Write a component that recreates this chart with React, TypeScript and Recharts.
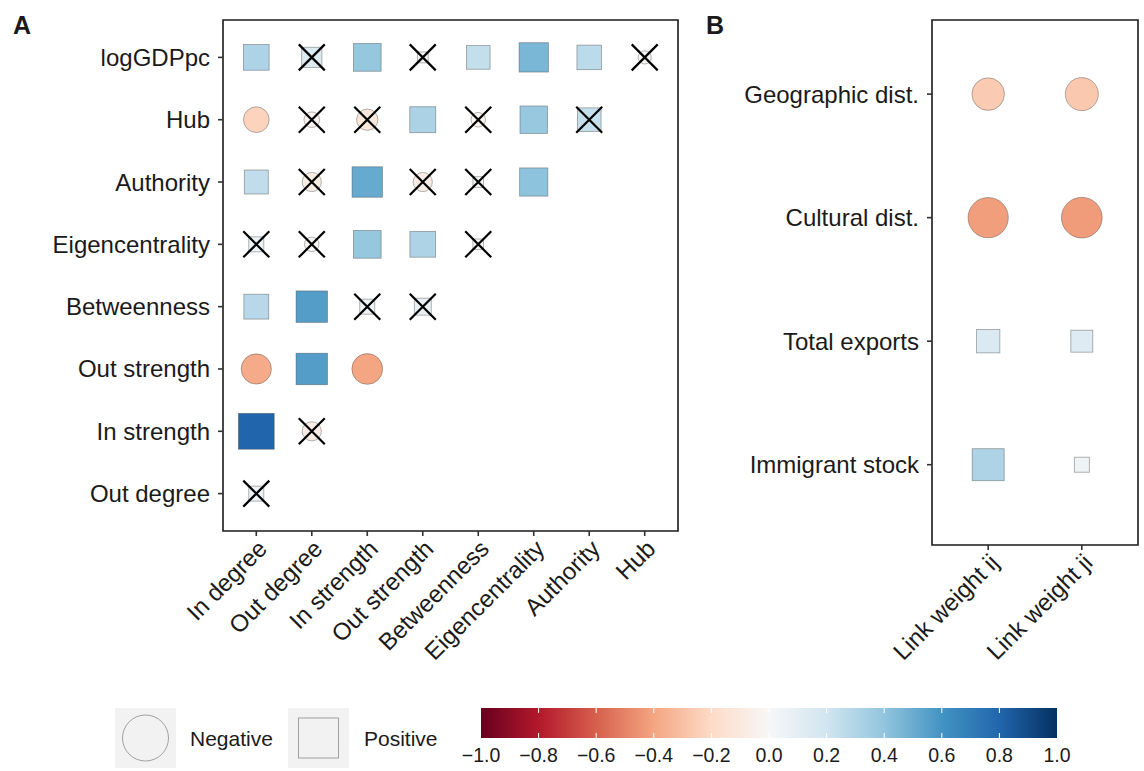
import React from "react";
import { ScatterChart, Scatter, XAxis, YAxis, ReferenceArea } from "recharts";

// Panel A: centrality measures (columns) vs row variables (lower triangle)
const colVars = ["In degree", "Out degree", "In strength", "Out strength", "Betweenness", "Eigencentrality", "Authority", "Hub"];
const rowVars = ["logGDPpc", "Hub", "Authority", "Eigencentrality", "Betweenness", "Out strength", "In strength", "Out degree"];

const corrLogGDPpc = [0.31, 0.14, 0.39, 0.004, 0.24, 0.46, 0.27, -0.01];
const corrHub = [-0.23, -0.03, -0.12, 0.32, -0.02, 0.38, 0.24];
const corrAuthority = [0.25, -0.08, 0.51, -0.08, 0.003, 0.41];
const corrEigen = [0.04, -0.02, 0.39, 0.31, 0.003];
const corrBetweenness = [0.28, 0.56, 0.04, 0.07];
const corrOutStrength = [-0.38, 0.56, -0.4];
const corrInStrength = [0.8, -0.08];
const corrOutDegree = [0.04];

// significant at the chosen level (false = crossed out)
const sigLogGDPpc = [true, false, true, false, true, true, true, false];
const sigHub = [true, false, false, true, false, true, false];
const sigAuthority = [true, false, true, false, false, true];
const sigEigen = [false, false, true, true, false];
const sigBetweenness = [true, true, false, false];
const sigOutStrength = [true, true, true];
const sigInStrength = [true, false];
const sigOutDegree = [false];

// Panel B: link weights vs dyadic variables
const linkVars = ["Link weight ij", "Link weight ji"];
const dyadVars = ["Geographic dist.", "Cultural dist.", "Total exports", "Immigrant stock"];
const corrLinkIj = [-0.26, -0.42, 0.15, 0.31];
const corrLinkJi = [-0.27, -0.43, 0.13, 0.05];
const sigLinkIj = [true, true, true, true];
const sigLinkJi = [true, true, true, true];

const colorbarTicks = [-1, -0.8, -0.6, -0.4, -0.2, 0, 0.2, 0.4, 0.6, 0.8, 1];

const RDBU = ["#67001f", "#b2182b", "#d6604d", "#f4a582", "#fddbc7", "#f7f7f7", "#d1e5f0", "#92c5de", "#4393c3", "#2166ac", "#053061"];
const FONT = "'Liberation Sans', Arial, Helvetica, sans-serif";
const INK = "#1a1a1a";
const LABEL_SIZE = 24;

const hex = (h: string) => [1, 3, 5].map((i) => parseInt(h.slice(i, i + 2), 16));
function corrColor(v: number) {
  const t = ((Math.max(-1, Math.min(1, v)) + 1) / 2) * 10;
  const i = Math.min(9, Math.floor(t));
  const f = t - i;
  const a = hex(RDBU[i]);
  const b = hex(RDBU[i + 1]);
  const c = a.map((x, k) => Math.round(x + (b[k] - x) * f));
  return `rgb(${c[0]},${c[1]},${c[2]})`;
}

const matrixRows = [
  [corrLogGDPpc, sigLogGDPpc],
  [corrHub, sigHub],
  [corrAuthority, sigAuthority],
  [corrEigen, sigEigen],
  [corrBetweenness, sigBetweenness],
  [corrOutStrength, sigOutStrength],
  [corrInStrength, sigInStrength],
  [corrOutDegree, sigOutDegree],
] as [number[], boolean[]][];

const dataA = matrixRows.flatMap(([vals, sig], row) =>
  vals.map((r, col) => ({ x: col + 1, y: row + 1, r, sig: sig[col] }))
);

const dataB = [
  ...corrLinkIj.map((r, i) => ({ x: 1, y: i + 1, r, sig: sigLinkIj[i] })),
  ...corrLinkJi.map((r, i) => ({ x: 2, y: i + 1, r, sig: sigLinkJi[i] })),
];

// size scale: side = base + k * sqrt(|r|), circles slightly bigger (equal-ish area)
const makeMarker = (base: number, k: number) => (props: any) => {
  const { cx, cy, payload } = props;
  if (cx == null || cy == null) return <g />;
  const side = base + k * Math.sqrt(Math.abs(payload.r));
  const fill = corrColor(payload.r);
  const stroke = "rgba(70,70,70,0.5)";
  const h = 13;
  return (
    <g>
      {payload.r < 0 ? (
        <circle cx={cx} cy={cy} r={(side * 1.1) / 2} fill={fill} stroke={stroke} strokeWidth={0.8} />
      ) : (
        <rect x={cx - side / 2} y={cy - side / 2} width={side} height={side} fill={fill} stroke={stroke} strokeWidth={0.8} />
      )}
      {!payload.sig && (
        <path d={`M${cx - h},${cy - h}L${cx + h},${cy + h}M${cx - h},${cy + h}L${cx + h},${cy - h}`} stroke="#000" strokeWidth={2.2} />
      )}
    </g>
  );
};

const AngledTick = ({ x, y, payload, labels }: any) => (
  <text
    x={x}
    y={y}
    textAnchor="end"
    dy="0.72em"
    fontSize={LABEL_SIZE}
    fill={INK}
    fontFamily={FONT}
    transform={`rotate(-45, ${x}, ${y})`}
  >
    {labels[payload.value - 1]}
  </text>
);

const range = (n: number) => Array.from({ length: n }, (_, i) => i + 1);
const tickLine = { stroke: "#333", strokeWidth: 1.6 };

export default function App() {
  return (
    <div style={{ position: "absolute", left: 0, top: 0, width: 1144, height: 771, background: "#fff", fontFamily: FONT, color: INK }}>
      <div style={{ position: "absolute", left: 13, top: 11, fontSize: 25, fontWeight: 700 }}>A</div>
      <div style={{ position: "absolute", left: 706, top: 11, fontSize: 25, fontWeight: 700 }}>B</div>

      <div style={{ position: "absolute", left: 0, top: 0 }}>
        <ScatterChart width={700} height={680} margin={{ top: 20, right: 22, bottom: 0, left: 0 }}>
          <XAxis
            type="number"
            dataKey="x"
            domain={[0.4, 8.6]}
            ticks={range(8)}
            interval={0}
            height={149}
            axisLine={false}
            tickLine={tickLine}
            tickSize={5}
            tickMargin={2}
            tick={(p: any) => <AngledTick {...p} labels={colVars} />}
          />
          <YAxis
            type="number"
            dataKey="y"
            domain={[0.4, 8.6]}
            reversed
            ticks={range(8)}
            interval={0}
            width={223}
            axisLine={false}
            tickLine={tickLine}
            tickSize={5}
            tickMargin={8}
            tick={{ fill: INK, fontSize: LABEL_SIZE, fontFamily: FONT }}
            tickFormatter={(v: number) => rowVars[v - 1]}
          />
          <ReferenceArea x1={0.4} x2={8.6} y1={0.4} y2={8.6} fill="none" stroke={INK} strokeWidth={1.6} ifOverflow="visible" />
          <Scatter data={dataA} isAnimationActive={false} shape={makeMarker(9, 30)} />
        </ScatterChart>
      </div>

      <div style={{ position: "absolute", left: 700, top: 0 }}>
        <ScatterChart width={444} height={680} margin={{ top: 20, right: 6, bottom: 0, left: 0 }}>
          <XAxis
            type="number"
            dataKey="x"
            domain={[0.4, 2.6]}
            ticks={range(2)}
            interval={0}
            height={135}
            axisLine={false}
            tickLine={tickLine}
            tickSize={5}
            tickMargin={2}
            tick={(p: any) => <AngledTick {...p} labels={linkVars} />}
          />
          <YAxis
            type="number"
            dataKey="y"
            domain={[0.4, 4.65]}
            reversed
            ticks={range(4)}
            interval={0}
            width={232}
            axisLine={false}
            tickLine={tickLine}
            tickSize={5}
            tickMargin={8}
            tick={{ fill: INK, fontSize: LABEL_SIZE, fontFamily: FONT }}
            tickFormatter={(v: number) => dyadVars[v - 1]}
          />
          <ReferenceArea x1={0.4} x2={2.6} y1={0.4} y2={4.65} fill="none" stroke={INK} strokeWidth={1.6} ifOverflow="visible" />
          <Scatter data={dataB} isAnimationActive={false} shape={makeMarker(3.6, 51)} />
        </ScatterChart>
      </div>

      {/* shape legend */}
      <svg style={{ position: "absolute", left: 0, top: 690 }} width={470} height={81}>
        <rect x={115} y={18} width={61} height={60} fill="#f2f2f2" />
        <circle cx={145.5} cy={48} r={23} fill="#f2f2f2" stroke="#8c8c8c" strokeWidth={0.8} />
        <text x={190} y={48} dy="0.36em" fontSize={21} fill={INK} fontFamily={FONT}>Negative</text>
        <rect x={288} y={18} width={61} height={60} fill="#f2f2f2" />
        <rect x={298.5} y={28} width={40} height={40} fill="#f2f2f2" stroke="#8c8c8c" strokeWidth={0.8} />
        <text x={364} y={48} dy="0.36em" fontSize={21} fill={INK} fontFamily={FONT}>Positive</text>
      </svg>

      {/* colour bar */}
      <svg style={{ position: "absolute", left: 460, top: 690 }} width={620} height={81}>
        <defs>
          <linearGradient id="rdbu" x1="0" x2="1" y1="0" y2="0">
            {RDBU.map((c, i) => (
              <stop key={i} offset={`${i * 10}%`} stopColor={c} />
            ))}
          </linearGradient>
        </defs>
        <rect x={21} y={18} width={576} height={30} fill="url(#rdbu)" />
        {colorbarTicks.slice(1, -1).map((t) => {
          const x = 21 + ((t + 1) / 2) * 576;
          return (
            <g key={t}>
              <line x1={x} x2={x} y1={18} y2={23} stroke="#fff" strokeWidth={1} />
              <line x1={x} x2={x} y1={43} y2={48} stroke="#fff" strokeWidth={1} />
            </g>
          );
        })}
        {colorbarTicks.map((t) => (
          <text key={t} x={21 + ((t + 1) / 2) * 576} y={65} dy="0.36em" textAnchor="middle" fontSize={19.5} fill={INK} fontFamily={FONT}>
            {t < 0 ? "\u2212" + Math.abs(t).toFixed(1) : t.toFixed(1)}
          </text>
        ))}
      </svg>
    </div>
  );
}
